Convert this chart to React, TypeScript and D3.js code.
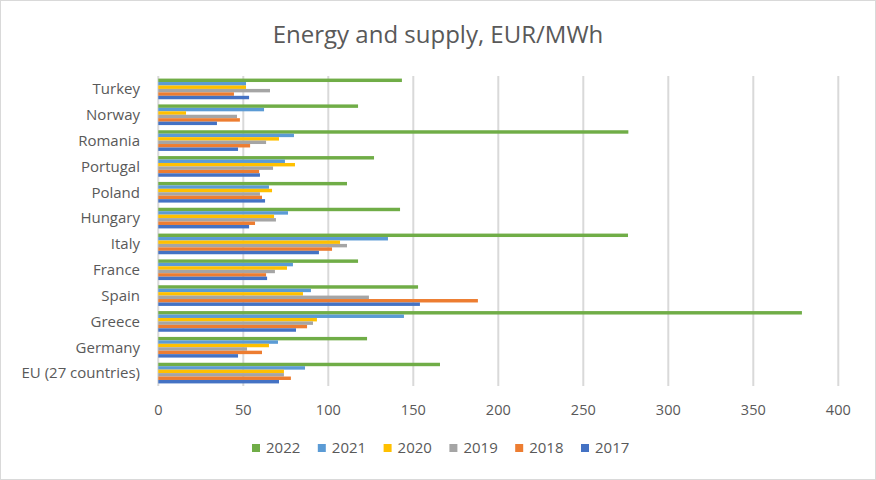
import React from "react";
import * as d3 from "d3";

const categories = [
  "Turkey",
  "Norway",
  "Romania",
  "Portugal",
  "Poland",
  "Hungary",
  "Italy",
  "France",
  "Spain",
  "Greece",
  "Germany",
  "EU (27 countries)",
];

const seriesKeys = ["2022", "2021", "2020", "2019", "2018", "2017"];

const v2022 = [143.3, 117.5, 276.5, 126.9, 111.0, 142.2, 276.3, 117.5, 152.8, 378.6, 122.8, 165.7];
const v2021 = [51.6, 62.2, 79.8, 74.5, 65.1, 76.3, 135.1, 79.2, 89.8, 144.5, 70.4, 86.3];
const v2020 = [51.6, 16.3, 71.0, 80.4, 66.9, 68.1, 106.9, 75.7, 85.1, 93.3, 65.1, 73.9];
const v2019 = [65.7, 46.3, 63.4, 67.5, 59.8, 69.2, 111.0, 68.6, 123.9, 91.0, 52.2, 73.9];
const v2018 = [44.5, 48.0, 54.0, 59.3, 61.0, 56.9, 102.2, 63.4, 188.0, 87.5, 61.0, 78.0];
const v2017 = [53.4, 34.5, 46.9, 59.8, 62.8, 53.4, 94.5, 64.0, 153.9, 81.0, 46.9, 71.0];

const seriesValues: Record<string, number[]> = {
  "2022": v2022,
  "2021": v2021,
  "2020": v2020,
  "2019": v2019,
  "2018": v2018,
  "2017": v2017,
};

const colors: Record<string, string> = {
  "2022": "#70AD47",
  "2021": "#5B9BD5",
  "2020": "#FFC000",
  "2019": "#A5A5A5",
  "2018": "#ED7D31",
  "2017": "#4472C4",
};

const xTicks = [0, 50, 100, 150, 200, 250, 300, 350, 400];
const title = "Energy and supply, EUR/MWh";

const W = 876;
const H = 480;
const FONT = "'Open Sans', 'Liberation Sans', sans-serif";
const TEXT = "#595959";

export default function App() {
  const left = 158.3;
  const right = 838.3;
  const top = 76;
  const bottom = 386;

  const x = d3.scaleLinear().domain([0, 400]).range([left, right]);
  const y = d3
    .scaleBand<string>()
    .domain(categories)
    .range([top, bottom])
    .paddingInner(0.2)
    .paddingOuter(0.1);
  const yInner = d3
    .scaleBand<string>()
    .domain(seriesKeys)
    .range([0, y.bandwidth()]);

  const legendStart = 252;
  const legendStep = 65.8;

  return (
    <svg
      width={W}
      height={H}
      style={{ position: "absolute", left: 0, top: 0, background: "#fff" }}
      fontFamily={FONT}
    >
      <rect x={0.5} y={0.5} width={W - 1} height={H - 1} fill="#fff" stroke="#D9D9D9" strokeWidth={1} />
      <text x={438} y={43} textAnchor="middle" fontSize={24} fill={TEXT}>
        {title}
      </text>
      {xTicks.map((t) => (
        <g key={t}>
          <line x1={x(t)} x2={x(t)} y1={top} y2={bottom} stroke="#D9D9D9" strokeWidth={2} />
          <text x={x(t)} y={415} textAnchor="middle" fontSize={14.5} fill={TEXT}>
            {t}
          </text>
        </g>
      ))}
      {categories.map((c, i) => (
        <g key={c}>
          <text
            x={140}
            y={(y(c) ?? 0) + y.bandwidth() / 2}
            dy="0.35em"
            textAnchor="end"
            fontSize={15}
            fill={TEXT}
          >
            {c}
          </text>
          {seriesKeys.map((k) => (
            <rect
              key={k}
              x={x(0)}
              y={(y(c) ?? 0) + (yInner(k) ?? 0)}
              width={x(seriesValues[k][i]) - x(0)}
              height={yInner.bandwidth()}
              fill={colors[k]}
            />
          ))}
        </g>
      ))}
      {seriesKeys.map((k, i) => (
        <g key={k} transform={`translate(${legendStart + i * legendStep},448)`}>
          <rect x={0} y={-4} width={8} height={8} fill={colors[k]} />
          <text x={14} y={0} dy="0.35em" fontSize={15} fill={TEXT}>
            {k}
          </text>
        </g>
      ))}
    </svg>
  );
}
